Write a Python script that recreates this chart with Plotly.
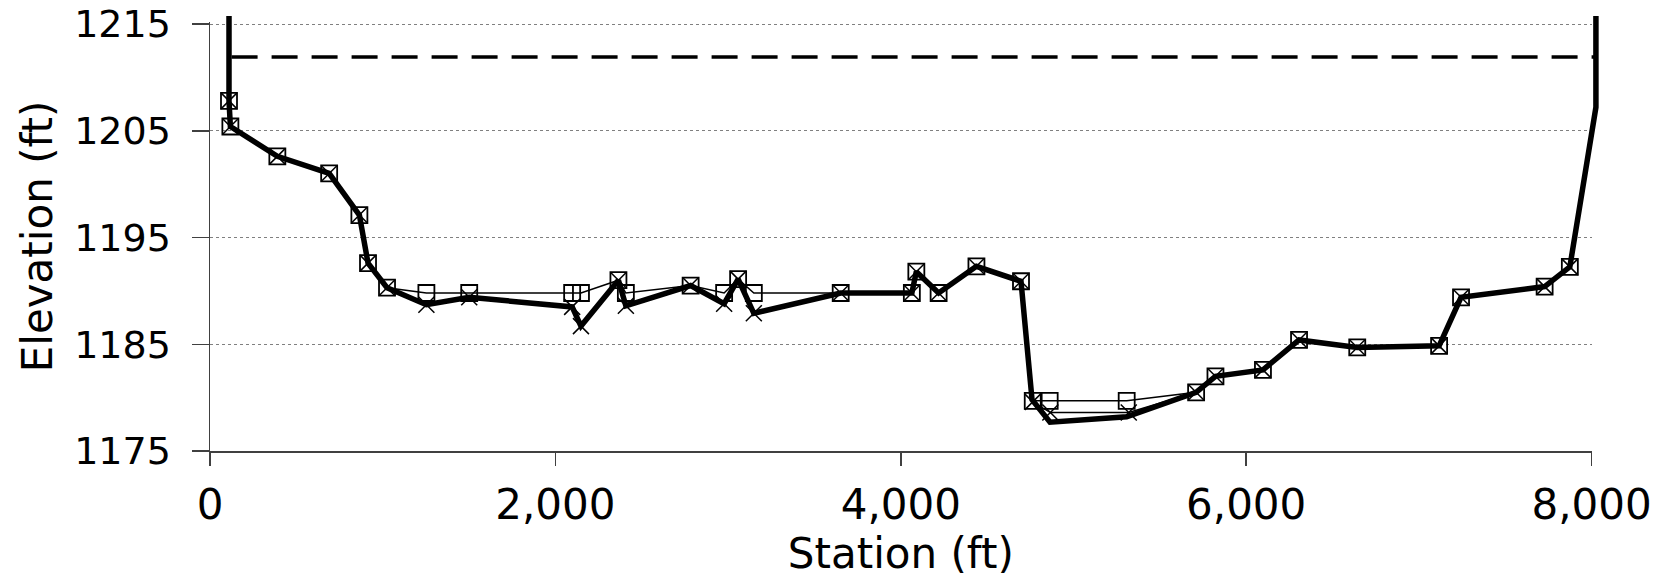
import plotly.graph_objects as go

# ---- data ----
# Survey A (open squares)
station_a = [110, 118, 390, 690, 865, 915, 1025, 1253, 1501, 2097, 2148, 2365, 2408, 2783,
             2977, 3058, 3149, 3652, 4064, 4090, 4219, 4438, 4696, 4764, 4862, 5308,
             5710, 5822, 6097, 6306, 6643, 7117, 7244, 7728, 7874]
elev_a = [1207.8, 1205.4, 1202.6, 1201.0, 1197.1, 1192.6, 1190.3, 1189.8, 1189.8, 1189.8,
          1189.8, 1191.0, 1189.8, 1190.5, 1189.8, 1191.1, 1189.8, 1189.8, 1189.8, 1191.8,
          1189.8, 1192.3, 1190.9, 1179.7, 1179.7, 1179.7, 1180.5, 1182.0, 1182.6, 1185.4,
          1184.7, 1184.85, 1189.4, 1190.4, 1192.25]

# Survey B (x markers)
station_b = [110, 118, 390, 690, 865, 915, 1025, 1253, 1501, 2097, 2148, 2365, 2408, 2783,
             2977, 3058, 3149, 3652, 4064, 4090, 4219, 4438, 4696, 4764, 4866, 5320,
             5710, 5822, 6097, 6306, 6643, 7117, 7244, 7728, 7874]
elev_b = [1207.8, 1205.4, 1202.6, 1201.0, 1197.1, 1192.6, 1190.3, 1188.7, 1189.4, 1188.5,
          1186.7, 1191.0, 1188.6, 1190.5, 1188.8, 1191.1, 1187.9, 1189.8, 1189.8, 1191.8,
          1189.8, 1192.3, 1190.9, 1179.6, 1178.6, 1178.6, 1180.5, 1182.0, 1182.6, 1185.4,
          1184.7, 1184.85, 1189.4, 1190.4, 1192.25]

# Survey C (thick line)
station_c = [110, 110, 118, 390, 690, 865, 915, 1025, 1253, 1501, 2097, 2148, 2365, 2408,
             2783, 2977, 3058, 3149, 3652, 4064, 4090, 4219, 4438, 4696, 4760, 4864, 5308,
             5710, 5822, 6097, 6306, 6643, 7117, 7244, 7728, 7874, 8025, 8025]
elev_c = [1217.5, 1207.8, 1205.4, 1202.6, 1201.0, 1197.1, 1192.6, 1190.3, 1188.7, 1189.4,
          1188.5, 1186.7, 1191.0, 1188.6, 1190.5, 1188.8, 1191.1, 1187.9, 1189.8, 1189.8,
          1191.8, 1189.8, 1192.3, 1190.9, 1179.8, 1177.7, 1178.2, 1180.5, 1182.0, 1182.6,
          1185.4, 1184.7, 1184.85, 1189.4, 1190.4, 1192.25, 1207.2, 1217.5]

# Water surface (dashed)
ws_station = [125, 8035]
ws_elev = [1211.9, 1211.9]

x_ticks = [0, 2000, 4000, 6000, 8000]
y_ticks = [1175, 1185, 1195, 1205, 1215]

# ---- layout geometry (page body margin removed, figure fills the window) ----
W, H = 1670, 580
ML, MR, MT, MB = 210, 71, 16, 129
plot_w = W - ML - MR
plot_h = H - MT - MB
px_per_ft = (450.7 - 23.7) / 40.0
xr = [0, 8000]
yr = [1175, 1215.2]             # small headroom so the 1215 gridline is drawn
x_end_px = 1591.6 - ML          # pixel position of station 8000 inside the plot area
y_top_px = (yr[1] - yr[0]) * px_per_ft
xdom = x_end_px / plot_w
ydom = y_top_px / plot_h

FONT = "DejaVu Sans, Liberation Sans, Arial, sans-serif"
AX = "#404040"

fig = go.Figure()

fig.add_trace(go.Scatter(
    x=station_a, y=elev_a, mode="lines+markers", xaxis="x", yaxis="y",
    line=dict(color="black", width=1.5),
    marker=dict(symbol="square-open", size=16, color="black", line=dict(color="black", width=1.8)),
    showlegend=False, name="A"))
fig.add_trace(go.Scatter(
    x=station_b, y=elev_b, mode="lines+markers", xaxis="x", yaxis="y",
    line=dict(color="black", width=1.5),
    marker=dict(symbol="x-thin", size=16, color="black", line=dict(color="black", width=1.5)),
    showlegend=False, name="B"))
fig.add_trace(go.Scatter(
    x=station_c, y=elev_c, mode="lines", xaxis="x2", yaxis="y2",
    line=dict(color="black", width=5.5),
    showlegend=False, name="C"))
fig.add_trace(go.Scatter(
    x=ws_station, y=ws_elev, mode="lines", xaxis="x2", yaxis="y2",
    line=dict(color="black", width=3.5, dash="26px,14px"),
    showlegend=False, name="WS"))

fig.update_layout(
    width=W, height=H,
    margin=dict(l=ML, r=MR, t=MT, b=MB, pad=0),
    paper_bgcolor="white", plot_bgcolor="rgba(0,0,0,0)",
    font=dict(family=FONT, color="black"),
    showlegend=False,
    xaxis=dict(
        domain=[0, xdom], range=xr, anchor="y", automargin=False,
        tickvals=x_ticks, tickformat=",", showgrid=False, zeroline=False,
        showline=True, linecolor=AX, linewidth=2,
        ticks="outside", ticklen=13, tickwidth=1.5, tickcolor=AX,
        tickfont=dict(size=42, family=FONT, color="black"),
        ticklabelstandoff=3, ticklabeloverflow="allow",
        title=dict(text="Station (ft)", font=dict(size=42, family=FONT, color="black"), standoff=8),
    ),
    yaxis=dict(
        domain=[0, ydom], range=yr, anchor="x", automargin=False,
        tickvals=y_ticks, showgrid=True, gridcolor="#808080", griddash="dot", gridwidth=1,
        zeroline=False, showline=True, linecolor=AX, linewidth=1.5,
        ticks="outside", ticklen=17, tickwidth=1.5, tickcolor=AX,
        tickfont=dict(size=38, family=FONT, color="black"),
        ticklabelstandoff=13, ticklabeloverflow="allow",
        title=dict(text="Elevation (ft)", font=dict(size=42, family=FONT, color="black"), standoff=8),
    ),
    xaxis2=dict(domain=[0, 1], range=[xr[0], xr[0] + (xr[1] - xr[0]) / xdom], anchor="y2",
                visible=False, showgrid=False, zeroline=False),
    yaxis2=dict(domain=[0, 1], range=[yr[0], yr[0] + (yr[1] - yr[0]) / ydom], anchor="x2",
                visible=False, showgrid=False, zeroline=False),
)

fig.write_html("out.html", config={"displayModeBar": False, "staticPlot": True},
               post_script="document.body.style.margin='0';")
